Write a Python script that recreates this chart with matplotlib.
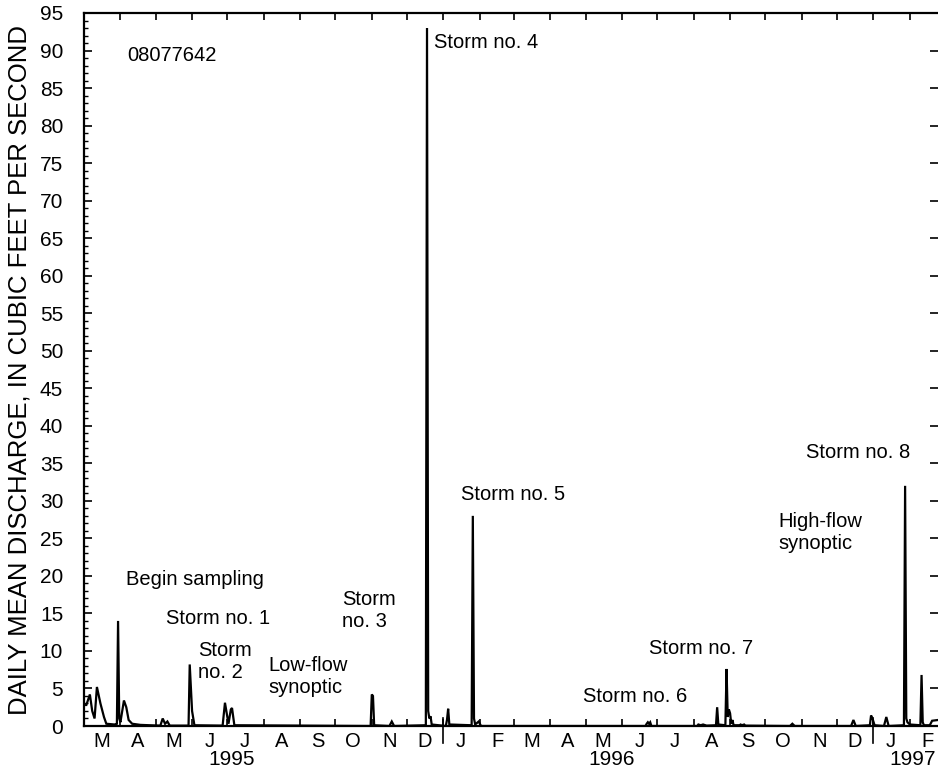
import matplotlib
matplotlib.use("Agg")
import matplotlib.pyplot as plt
import matplotlib.transforms as mtransforms
import pandas as pd
import numpy as np

plt.rcParams['font.family'] = ['Liberation Sans', 'DejaVu Sans']

# daily mean discharge (date, cubic feet per second)
dates = [
    '1995-03-01', '1995-03-03', '1995-03-06', '1995-03-08', '1995-03-10', '1995-03-12',
    '1995-03-15', '1995-03-18', '1995-03-20', '1995-03-27', '1995-03-29', '1995-03-30',
    '1995-03-31', '1995-04-01', '1995-04-04', '1995-04-06', '1995-04-08', '1995-04-11',
    '1995-04-18', '1995-04-26', '1995-05-05', '1995-05-07', '1995-05-09', '1995-05-11',
    '1995-05-13', '1995-05-29', '1995-05-30', '1995-06-01', '1995-06-03', '1995-06-27',
    '1995-06-29', '1995-07-02', '1995-07-04', '1995-07-05', '1995-07-07', '1995-10-31',
    '1995-11-01', '1995-11-02', '1995-11-03', '1995-11-16', '1995-11-18', '1995-11-20',
    '1995-12-17', '1995-12-18', '1995-12-19', '1995-12-20', '1995-12-21', '1995-12-22',
    '1996-01-03', '1996-01-04', '1996-01-05', '1996-01-06', '1996-01-25', '1996-01-26',
    '1996-01-27', '1996-01-28', '1996-01-31', '1996-02-02', '1996-06-21', '1996-06-22',
    '1996-06-23', '1996-06-24', '1996-06-25', '1996-06-26', '1996-08-04', '1996-08-05',
    '1996-08-07', '1996-08-09', '1996-08-12', '1996-08-20', '1996-08-21', '1996-08-22',
    '1996-08-28', '1996-08-29', '1996-08-30', '1996-08-31', '1996-09-01', '1996-09-02',
    '1996-09-03', '1996-09-04', '1996-09-09', '1996-09-10', '1996-09-11', '1996-09-13',
    '1996-09-14', '1996-10-22', '1996-10-24', '1996-10-26', '1996-12-13', '1996-12-15',
    '1996-12-17', '1996-12-29', '1996-12-30', '1996-12-31', '1997-01-01', '1997-01-02',
    '1997-01-10', '1997-01-12', '1997-01-14', '1997-01-27', '1997-01-28', '1997-01-29',
    '1997-01-30', '1997-02-01', '1997-02-10', '1997-02-11', '1997-02-12', '1997-02-13',
    '1997-02-18', '1997-02-20', '1997-02-25',
]
flow = [
    2.8, 2.8, 4.2, 2.0, 1.0, 5.2,
    3.0, 1.2, 0.3, 0.2, 0.3, 14.0,
    1.0, 0.5, 3.4, 2.5, 0.8, 0.3,
    0.15, 0.1, 0.05, 1.0, 0.3, 0.6,
    0.05, 0.05, 8.2, 2.0, 0.1, 0.05,
    3.1, 0.3, 2.2, 2.4, 0.1, 0.0,
    4.2, 4.0, 0.1, 0.0, 0.6, 0.0,
    0.1, 93.0, 2.0, 1.0, 1.3, 0.2,
    0.0, 0.8, 2.3, 0.2, 0.1, 28.0,
    1.0, 0.2, 0.6, 0.0, 0.0, 0.3,
    0.5, 0.3, 0.5, 0.0, 0.0, 0.2,
    0.1, 0.2, 0.05, 0.1, 2.5, 0.2,
    0.1, 7.6, 1.2, 2.2, 1.7, 0.3,
    0.8, 0.1, 0.1, 0.2, 0.1, 0.2,
    0.05, 0.0, 0.3, 0.0, 0.0, 0.8,
    0.0, 0.1, 1.4, 1.1, 0.6, 0.1,
    0.0, 1.2, 0.0, 0.1, 32.0, 1.0,
    0.5, 0.2, 0.1, 6.8, 0.5, 0.1,
    0.1, 0.7, 0.8,
]

month_letters = ['M', 'A', 'M', 'J', 'J', 'A', 'S', 'O', 'N', 'D', 'J', 'F',
                 'M', 'A', 'M', 'J', 'J', 'A', 'S', 'O', 'N', 'D', 'J', 'F']
year_labels = ['1995', '1996', '1997']
year_breaks = ['1996-01-01', '1997-01-01']

station = '08077642'
notes = [
    ('Storm no. 4', 0.410, 0.958),
    ('Storm no. 5', 0.441, 0.325),
    ('Storm no. 8', 0.845, 0.383),
    ('High-flow\nsynoptic', 0.813, 0.271),
    ('Storm no. 7', 0.662, 0.108),
    ('Storm no. 6', 0.584, 0.042),
    ('Begin sampling', 0.049, 0.205),
    ('Storm no. 1', 0.096, 0.151),
    ('Storm\nno. 2', 0.1335, 0.090),
    ('Low-flow\nsynoptic', 0.2155, 0.070),
    ('Storm\nno. 3', 0.302, 0.162),
]

x = pd.to_datetime(dates)
start = pd.Timestamp('1995-03-01')
end = pd.Timestamp('1997-02-25')

fig = plt.figure(figsize=(9.38, 7.72), dpi=100)
ax = fig.add_axes([84/938, 46/772, 854/938, 713/772])

ax.plot(x, flow, color='black', lw=1.6, solid_joinstyle='miter')

ax.set_xlim(start, end)
ax.set_ylim(0, 95)

# month boundaries as ticks, letters at mid month
bounds = pd.date_range('1995-03-01', '1997-03-01', freq='MS')
mids = bounds[:-1] + pd.Timedelta(days=15)
ax.set_xticks(bounds[1:-1])
ax.set_xticklabels([])
ax.set_xticks(mids, minor=True)
ax.set_xticklabels(month_letters, minor=True, fontsize=14.5)
ax.tick_params(axis='x', which='major', direction='in', length=5, width=1.2, top=True)
ax.tick_params(axis='x', which='minor', length=0, pad=4)

ax.set_yticks(np.arange(0, 96, 5))
ax.set_yticks(np.arange(0, 96, 1), minor=True)
ax.tick_params(axis='y', which='major', direction='in', length=6, width=1.2,
               right=True, labelsize=15, pad=15)
ax.tick_params(axis='y', which='minor', direction='in', length=3, width=1.0)

for sp in ['left', 'top', 'bottom']:
    ax.spines[sp].set_linewidth(1.6)
ax.spines['right'].set_visible(False)

# year divider marks crossing the axis
trans = mtransforms.blended_transform_factory(ax.transData, ax.transAxes)
for yb in pd.to_datetime(year_breaks):
    ax.plot([yb, yb], [0.0112, -0.0238], color='black', lw=1.2,
            transform=trans, clip_on=False)

for lab, fx in zip(year_labels, [0.173, 0.618, 0.970]):
    ax.text(fx, -0.0475, lab, transform=ax.transAxes, ha='center', va='center', fontsize=15)

ax.text(0.0504, 0.941, station, transform=ax.transAxes, va='center', fontsize=14.5)
for txt, fx, fy in notes:
    ax.text(fx, fy, txt, transform=ax.transAxes, va='center', ha='left',
            fontsize=14.5, linespacing=1.2)

ax.text(-0.0761, 0.499, 'DAILY MEAN DISCHARGE, IN CUBIC FEET PER SECOND',
        transform=ax.transAxes, rotation=90, ha='center', va='center', fontsize=18.5)

fig.savefig('out.png', dpi=100)
